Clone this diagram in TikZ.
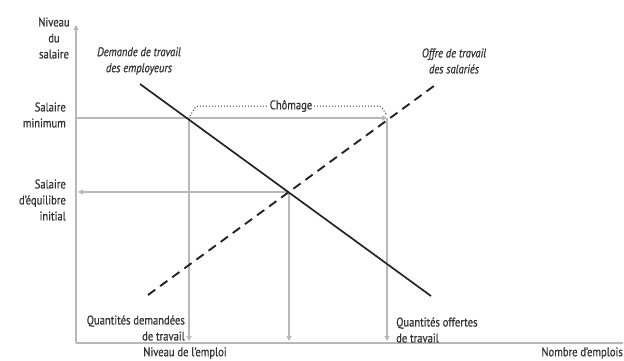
\documentclass[tikz,border=0pt]{standalone}
\usepackage{fontspec}
\setmainfont{PT Sans}[FakeStretch=0.84,FakeBold=0.7]
\usetikzlibrary{arrows.meta}
\definecolor{txt}{HTML}{333333}
\definecolor{guide}{HTML}{B8B8B8}
\definecolor{curve}{HTML}{242424}
\begin{document}
\begin{tikzpicture}[x=1pt,y=-1pt,
  lbl/.style={inner sep=0pt,text=txt,font=\fontsize{12.6}{16}\selectfont},
  guideline/.style={draw=guide,line width=1.1pt},
  gtip/.style={-{Triangle[width=5pt,length=5pt]}},
  demandline/.style={draw=curve,line width=1.7pt},
  supplyline/.style={draw=curve,line width=1.9pt,dash pattern=on 9pt off 6pt},
  gapline/.style={draw=txt,line width=1pt,dotted,rounded corners=2pt}]
\useasboundingbox (0,0) rectangle (624,361);
% points
\coordinate (O) at (76,343);
\coordinate (ytop) at (76,25);
\coordinate (xend) at (623,343);
\coordinate (D1) at (140,84);
\coordinate (D2) at (431,296);
\coordinate (S1) at (148,295);
\coordinate (S2) at (438,83);
\coordinate (E) at (289,192);
\coordinate (A) at (189,118);
\coordinate (B) at (387,118);
\coordinate (yMin) at (76,118);
\coordinate (yEq) at (78,192);
\coordinate (Ax) at (189,341);
\coordinate (Ex) at (289,341);
\coordinate (Bx) at (387,341);
\coordinate (c1) at (190,116);
\coordinate (c2) at (196,106);
\coordinate (c3) at (381,106);
\coordinate (c4) at (386,114);
% axes
\draw[guideline,gtip] (O) -- (ytop);
\draw[guideline] (O) -- (xend);
% guides
\draw[guideline,gtip] (yMin) -- (B);
\draw[guideline,gtip] (E) -- (yEq);
\draw[guideline,gtip] (A) -- (Ax);
\draw[guideline,gtip] (E) -- (Ex);
\draw[guideline,gtip] (B) -- (Bx);
% chomage
\draw[gapline] (c1) -- (c2) -- (c3) -- (c4);
\node[lbl,fill=white,inner xsep=2pt,inner ysep=1pt] (chom) at (291,106) {Chômage};
% curves
\draw[demandline] (D1) -- (D2);
\draw[supplyline] (S1) -- (S2);
% labels
\node[lbl,align=center] (ny) at (54,38) {Niveau\\du\\salaire};
\node[lbl,align=center,font=\fontsize{12.6}{16}\selectfont\itshape] (dem) at (139,61) {Demande de travail\\des employeurs};
\node[lbl,align=center,font=\fontsize{12.6}{16}\selectfont\itshape] (off) at (454,61) {Offre de travail\\des salariés};
\node[lbl,align=right,anchor=east] (smin) at (66,115) {Salaire\\minimum};
\node[lbl,align=right,anchor=east] (seq) at (66,200) {Salaire\\d'équilibre\\initial};
\node[lbl,align=right,anchor=east] (qd) at (185,328) {Quantités demandées\\de travail};
\node[lbl,align=left,anchor=west] (qo) at (396,330) {Quantités offertes\\de travail};
\node[lbl] (nx) at (185,353) {Niveau de l'emploi};
\node[lbl,anchor=east] (ne) at (623,353) {Nombre d'emplois};
\end{tikzpicture}
\end{document}
